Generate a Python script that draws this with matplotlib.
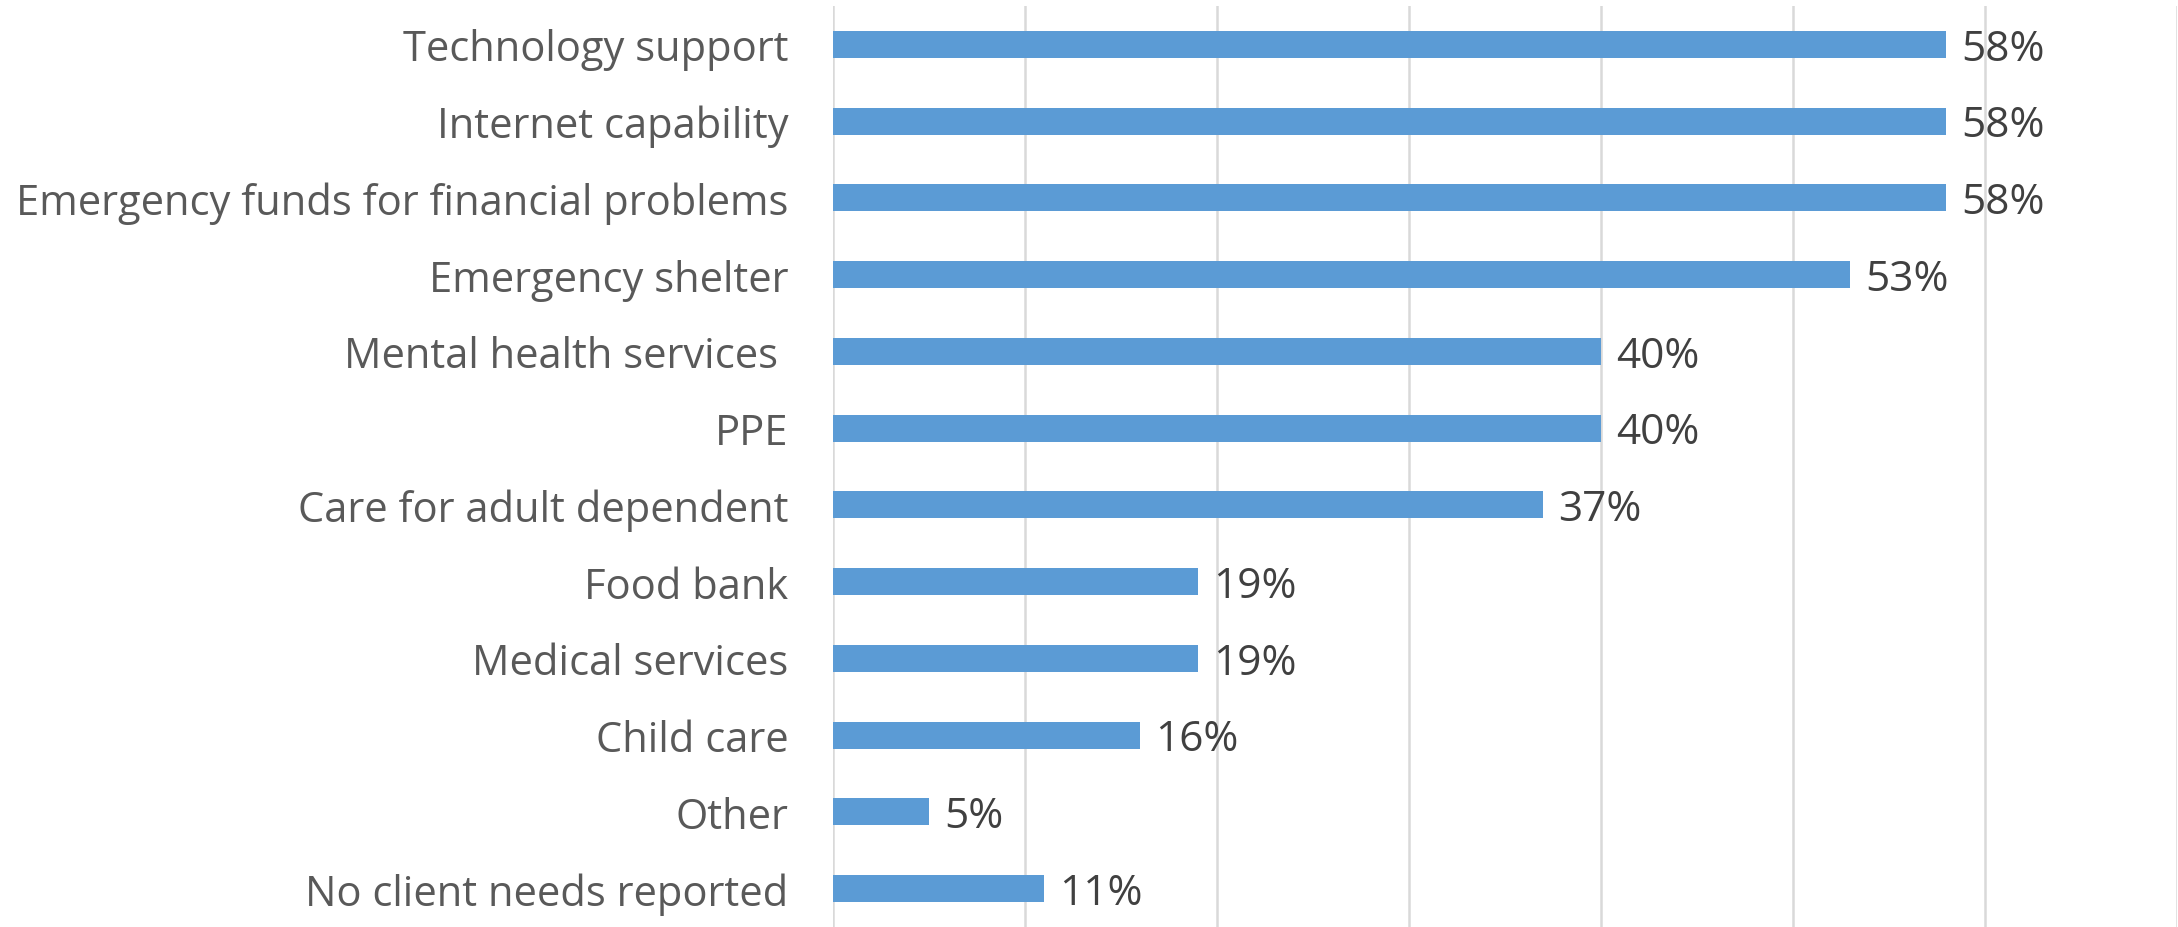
import matplotlib
matplotlib.use("Agg")
import matplotlib.pyplot as plt

# needs reported, top to bottom
categories = [
    "Technology support",
    "Internet capability",
    "Emergency funds for financial problems",
    "Emergency shelter",
    "Mental health services ",
    "PPE",
    "Care for adult dependent",
    "Food bank",
    "Medical services",
    "Child care",
    "Other",
    "No client needs reported",
]
percents = [58, 58, 58, 53, 40, 40, 37, 19, 19, 16, 5, 11]
grid_ticks = [0, 10, 20, 30, 40, 50, 60, 70]

plt.rcParams["font.family"] = ["Open Sans", "DejaVu Sans"]

fig = plt.figure(figsize=(21.78, 9.28), dpi=100)
ax = fig.add_axes([833 / 2178, 0, 1343.5 / 2178, 921 / 928])

pos = list(range(len(categories)))
ax.barh(pos, percents, height=0.35, color="#5B9BD5", zorder=3)
# value labels just right of each bar, sitting a touch low like Excel does
for y, p in zip(pos, percents):
    ax.annotate(f"{p}%", (p, y), xytext=(11, -3), textcoords="offset points",
                ha="left", va="center", fontsize=30.5, color="#404040")

ax.set_xlim(0, 70)
ax.set_ylim(len(categories) - 0.5, -0.5)
ax.set_xticks(grid_ticks)
ax.set_xticklabels([])
ax.grid(axis="x", color="#D9D9D9", linewidth=1.8, zorder=0)
ax.set_yticks(pos)
ax.set_yticklabels(categories, fontsize=30, color="#595959")
ax.tick_params(axis="both", length=0)
ax.tick_params(axis="y", pad=32)
for s in ax.spines.values():
    s.set_visible(False)

fig.savefig("out.png", dpi=100)
